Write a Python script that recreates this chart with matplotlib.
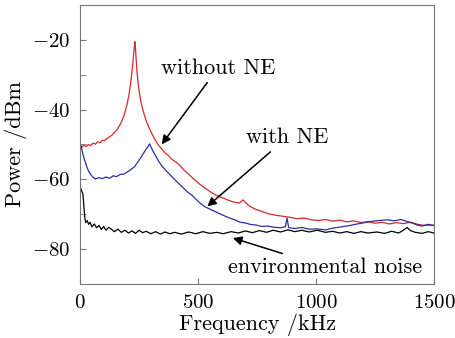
import matplotlib
matplotlib.use("Agg")
import matplotlib.pyplot as plt
from matplotlib.ticker import MultipleLocator

# spectra (frequency in kHz, power in dBm)
freq_without = [0, 8, 16, 25, 35, 45, 55, 65, 75, 85, 95, 105, 115, 125, 135, 145,
                155, 165, 175, 185, 192, 200, 207, 213, 218, 223, 227, 230, 232, 234,
                237, 241, 246, 252, 258, 265, 273, 282, 292, 302, 315, 330, 345, 360,
                375, 390, 405, 420, 440, 460, 480, 500, 525, 550, 575, 600, 625, 650,
                675, 690, 700, 720, 745, 770, 800, 830, 860, 890, 920, 950, 980, 1010,
                1040, 1070, 1100, 1130, 1160, 1190, 1220, 1250, 1280, 1310, 1340, 1370,
                1400, 1430, 1460, 1500]
power_without = [-50.5, -50.8, -50.2, -50.6, -50.0, -50.3, -49.6, -49.9, -49.2, -49.5,
                 -48.8, -48.9, -48.2, -47.8, -47.3, -46.6, -45.9, -44.8, -43.6, -41.9,
                 -40.3, -38.2, -35.8, -33.0, -30.2, -27.0, -24.0, -21.8, -20.5, -21.6,
                 -25.0, -29.0, -32.5, -35.5, -37.8, -39.8, -41.7, -43.5, -45.2, -46.6,
                 -48.3, -50.0, -51.2, -52.4, -53.2, -54.3, -55.0, -55.8, -57.3, -58.5,
                 -59.8, -61.0, -62.3, -63.5, -64.5, -65.2, -65.9, -66.5, -66.8, -65.9,
                 -66.6, -67.8, -68.6, -69.2, -69.9, -70.3, -70.6, -70.9, -71.3, -71.1,
                 -71.6, -71.8, -71.5, -72.0, -71.7, -72.2, -71.9, -72.4, -72.1, -72.6,
                 -72.3, -72.8, -72.4, -72.7, -72.3, -72.9, -73.2, -73.1]

freq_with = [0, 5, 10, 15, 21, 28, 35, 45, 55, 65, 80, 95, 110, 125, 140, 155, 170,
             185, 200, 215, 230, 245, 258, 270, 280, 288, 294, 297, 301, 306, 312, 320,
             331, 345, 360, 380, 400, 415, 435, 455, 475, 492, 510, 530, 555, 580, 606,
             630, 655, 678, 700, 720, 745, 770, 795, 818, 850, 870, 877, 884, 910, 940,
             970, 1004, 1040, 1070, 1100, 1130, 1160, 1190, 1216, 1240, 1270, 1301,
             1330, 1360, 1386, 1410, 1428, 1450, 1475, 1500]
power_with = [-49.4, -50.5, -52.2, -53.6, -54.8, -56.3, -57.5, -58.6, -59.4, -59.9,
              -59.5, -59.8, -59.3, -59.7, -59.0, -59.2, -58.6, -58.5, -57.9, -57.2,
              -56.4, -55.0, -53.7, -52.4, -51.3, -50.6, -49.8, -50.2, -50.8, -51.5,
              -52.3, -53.2, -54.6, -56.0, -57.2, -58.6, -60.0, -61.0, -62.3, -63.6,
              -64.6, -65.8, -66.9, -67.9, -68.7, -69.5, -70.3, -71.0, -71.6, -72.3,
              -72.5, -72.9, -73.1, -73.5, -73.4, -73.7, -73.9, -73.6, -71.1, -73.9,
              -74.1, -73.8, -74.3, -74.2, -74.5, -74.0, -73.7, -73.4, -73.0, -72.6,
              -72.3, -72.0, -71.8, -71.6, -71.9, -71.5, -72.1, -72.6, -73.1, -73.4,
              -72.9, -73.3]

freq_env = [0, 4, 8, 12, 16, 20, 24, 30, 36, 42, 50, 60, 70, 80, 90, 100, 110, 120,
            131, 145, 160, 175, 190, 205, 220, 235, 250, 265, 280, 300, 320, 340, 360,
            380, 400, 430, 460, 490, 520, 550, 580, 606, 640, 670, 700, 730, 760, 790,
            818, 850, 880, 910, 940, 970, 1004, 1040, 1070, 1100, 1130, 1160, 1190,
            1220, 1258, 1290, 1320, 1350, 1370, 1386, 1400, 1420, 1450, 1475, 1500]
power_env = [-62.3, -62.8, -63.5, -64.2, -67.5, -71.0, -72.4, -71.8, -72.9, -72.3,
             -73.6, -72.8, -73.9, -73.2, -74.4, -73.5, -74.6, -73.8, -74.2, -75.0,
             -74.3, -75.2, -74.6, -75.4, -74.8, -75.5, -74.6, -75.3, -74.9, -75.6,
             -75.0, -75.7, -75.1, -75.6, -75.2, -75.7, -75.1, -75.6, -75.0, -75.5,
             -75.2, -75.6, -75.0, -75.4, -74.8, -75.3, -74.7, -75.2, -74.6, -75.1,
             -74.5, -75.0, -74.6, -75.1, -74.6, -75.2, -74.9, -75.4, -75.0, -75.5,
             -75.0, -75.4, -75.1, -75.5, -74.9, -75.4, -74.6, -73.8, -74.7, -75.2,
             -75.5, -75.0, -75.4]

plt.rcParams["font.family"] = "serif"
plt.rcParams["font.serif"] = ["cmr10", "DejaVu Serif"]
plt.rcParams["mathtext.fontset"] = "cm"
plt.rcParams["axes.formatter.use_mathtext"] = True

fig = plt.figure(figsize=(4.55, 3.38), dpi=100)
ax = fig.add_axes([0.176, 0.160, 0.778, 0.825])

ax.plot(freq_without, power_without, color="#d42a2a", lw=0.9)
ax.plot(freq_with, power_with, color="#2b2fa3", lw=0.9)
ax.plot(freq_env, power_env, color="black", lw=0.9)

ax.set_xlim(0, 1500)
ax.set_ylim(-90, -10)
ax.xaxis.set_major_locator(MultipleLocator(500))
ax.yaxis.set_major_locator(MultipleLocator(20))
ax.yaxis.set_minor_locator(MultipleLocator(10))
ax.tick_params(direction="in", length=4, color="#777777", labelsize=15)
ax.tick_params(which="minor", direction="in", length=4, color="#777777")
ax.tick_params(axis="x", pad=7)
ax.tick_params(axis="y", pad=7)
for sp in ax.spines.values():
    sp.set_color("#777777")

ax.set_xlabel("Frequency /kHz", fontsize=16, labelpad=1)
ax.set_ylabel("Power /dBm", fontsize=16, labelpad=4)

arrow = dict(arrowstyle="-|>", color="black", lw=1.1, mutation_scale=13)
ax.annotate("without NE", xy=(339, -50.6), xytext=(585, -28), fontsize=16,
            ha="center", va="center", arrowprops=arrow)
ax.annotate("with NE", xy=(530, -68.3), xytext=(877, -48), fontsize=16,
            ha="center", va="center", arrowprops=arrow)
ax.annotate("environmental noise", xy=(636, -76.6), xytext=(1038, -85.1), fontsize=16,
            ha="center", va="center", arrowprops=arrow)

fig.savefig("out.png", dpi=100)
